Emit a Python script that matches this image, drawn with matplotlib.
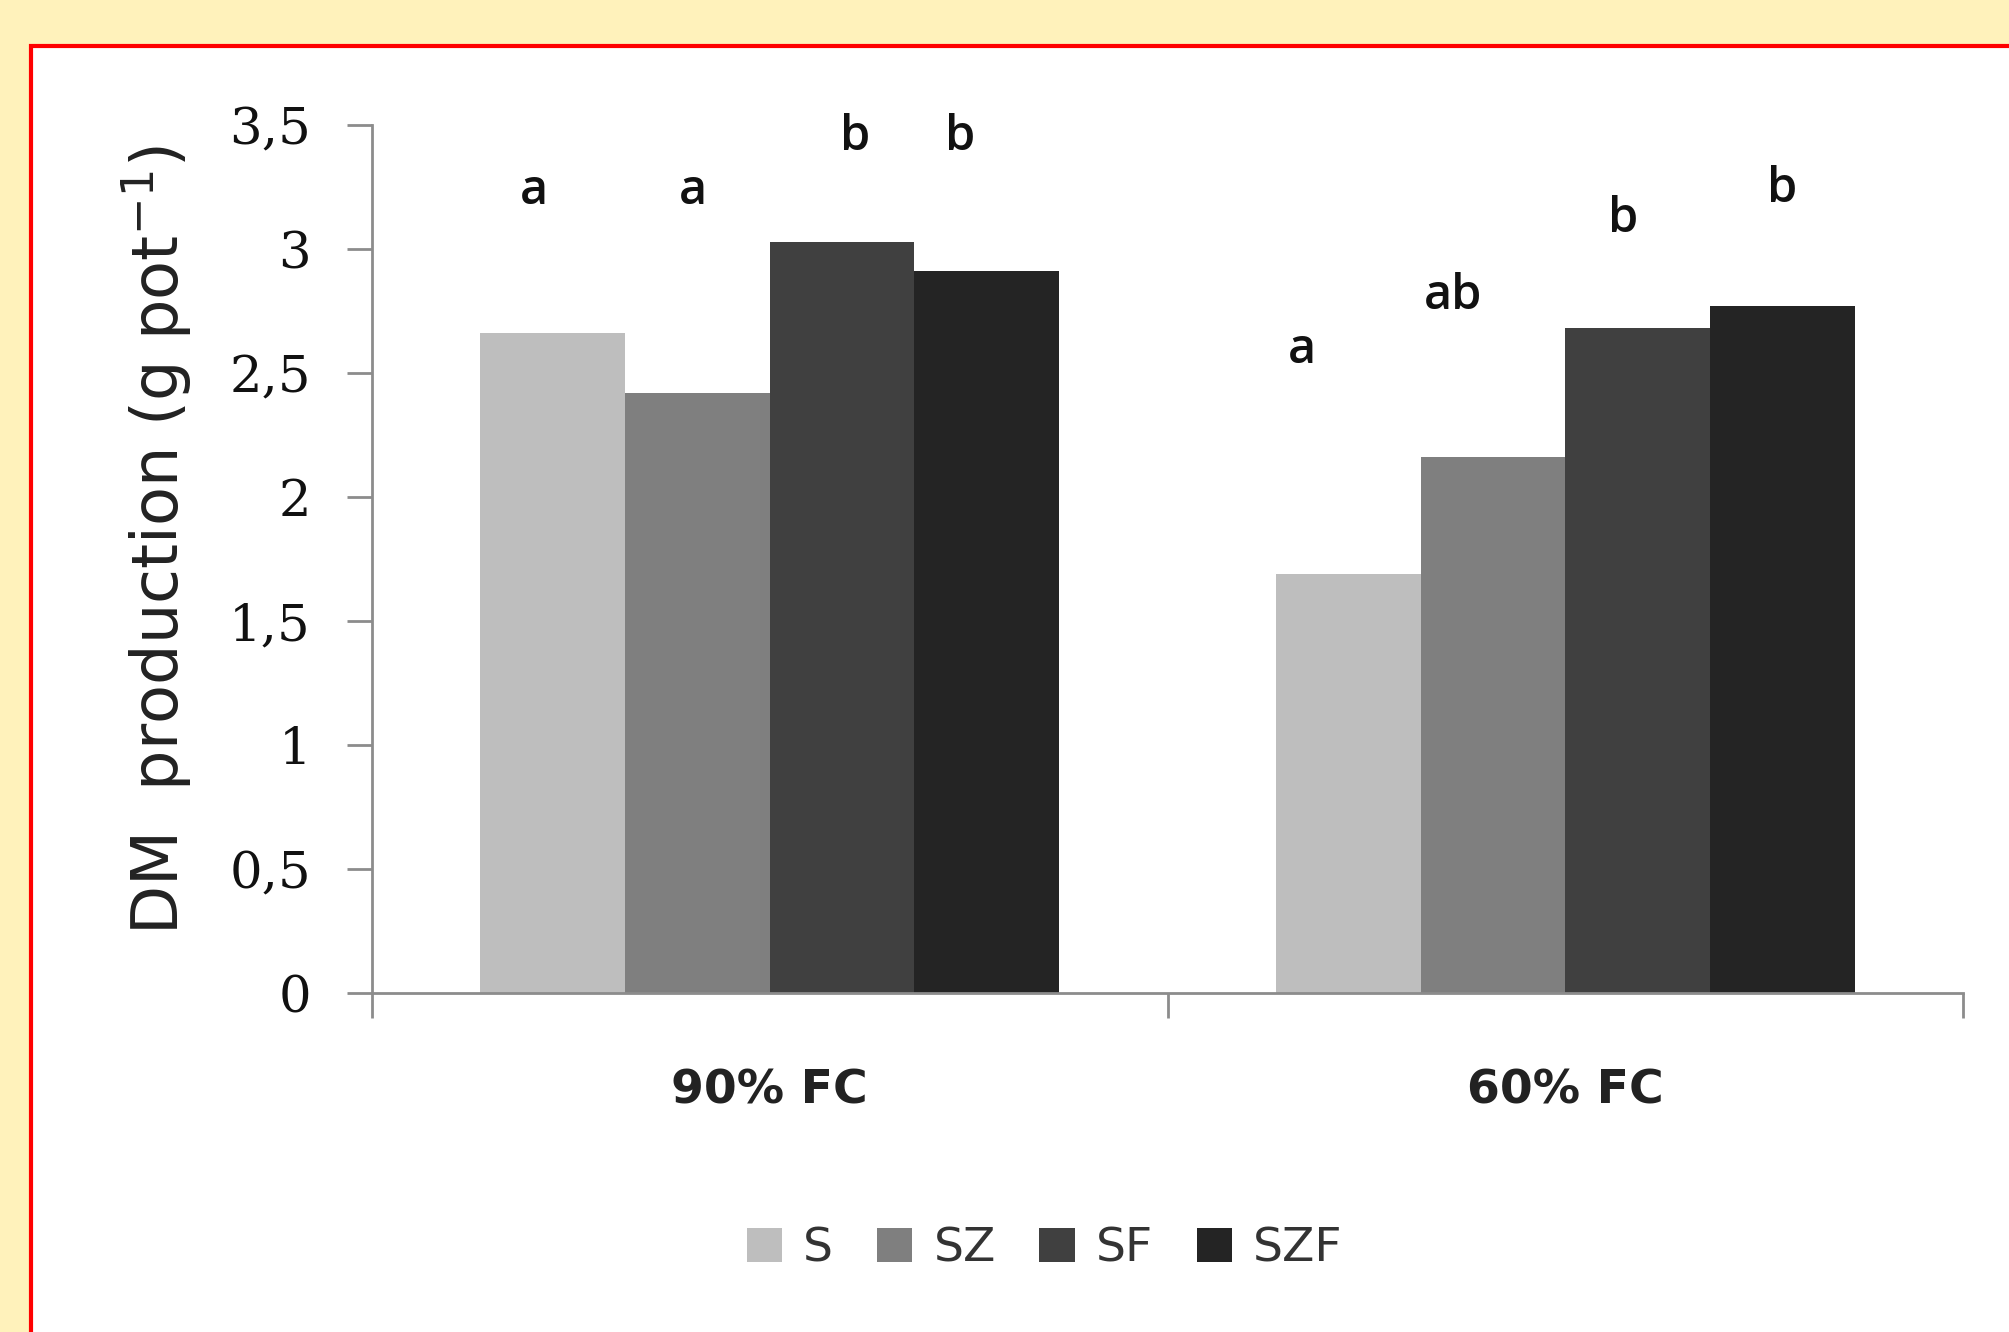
import matplotlib
matplotlib.use('Agg')
import numpy as np
from matplotlib import pyplot as plt
from matplotlib.patches import Rectangle

# Data
categories = ['90% FC', '60% FC']
series = ['S', 'SZ', 'SF', 'SZF']
values = {
    'S':   [2.66, 1.69],
    'SZ':  [2.42, 2.16],
    'SF':  [3.03, 2.68],
    'SZF': [2.91, 2.77],
}
colors = ['#BEBEBE', '#7F7F7F', '#404040', '#242424']

# Significance letters and where they sit (data coords)
letters = ['a', 'a', 'b', 'b', 'a', 'ab', 'b', 'b']
letter_x = [-0.297, -0.097, 0.107, 0.239, 0.669, 0.859, 1.073, 1.273]
letter_y = [3.23, 3.23, 3.45, 3.45, 2.59, 2.81, 3.12, 3.24]

fig = plt.figure(figsize=(20.09, 13.32), dpi=100)
fig.patch.set_facecolor('#FFF2BB')

# White panel with red frame (behind the axes)
frame = Rectangle((31 / 2009, -0.1), 1.2, 1 - 46 / 1332 + 0.1, transform=fig.transFigure,
                  facecolor='white', edgecolor='#FF0000', linewidth=3, zorder=-5)
fig.patches.append(frame)

ax = fig.add_axes([372 / 2009, 339 / 1332, (1963 - 372) / 2009, (1207 - 339) / 1332])
ax.set_facecolor('none')

x = np.arange(len(categories))
width = 1 / (len(series) + 1.5)
for i, s in enumerate(series):
    offset = (i - (len(series) - 1) / 2) * width
    ax.bar(x + offset, values[s], width, color=colors[i], label=s, zorder=2)

for t, lx, ly in zip(letters, letter_x, letter_y):
    ax.text(lx, ly, t, ha='center', va='center', fontsize=35, fontweight='semibold',
            family=['Open Sans', 'DejaVu Sans'], color='#111111')

ax.set_xlim(-0.5, 1.5)
ax.set_ylim(0, 3.5)

# Spines and ticks
for side in ['top', 'right']:
    ax.spines[side].set_visible(False)
for side in ['left', 'bottom']:
    ax.spines[side].set_color('#8C8C8C')
    ax.spines[side].set_linewidth(2)

ax.set_yticks(np.arange(0, 3.51, 0.5))
ax.set_yticklabels(['0', '0,5', '1', '1,5', '2', '2,5', '3', '3,5'],
                   family='DejaVu Serif', fontsize=37, color='#111111')
ax.tick_params(axis='y', length=18, width=2, color='#8C8C8C', pad=26)

ax.set_xticks(x)
ax.set_xticklabels(categories, fontsize=34, fontweight='bold', color='#222222')
ax.set_xticks([-0.5, 0.5, 1.5], minor=True)
ax.tick_params(axis='x', which='major', length=0, pad=54)
ax.tick_params(axis='x', which='minor', length=18, width=2, color='#8C8C8C')

ax.set_ylabel('DM  production (g pot$^{\\mathregular{-1}}$)', fontsize=46, color='#222222')
ax.yaxis.set_label_coords(-0.112, 0.522)

fig.legend(loc='center', bbox_to_anchor=(0.52, 0.0623), ncol=4, frameon=False,
           fontsize=34, handlelength=0.75, handleheight=0.75, handletextpad=0.45,
           columnspacing=0.92, labelcolor='#333333')

plt.savefig('out.png', dpi=100, facecolor=fig.get_facecolor())
